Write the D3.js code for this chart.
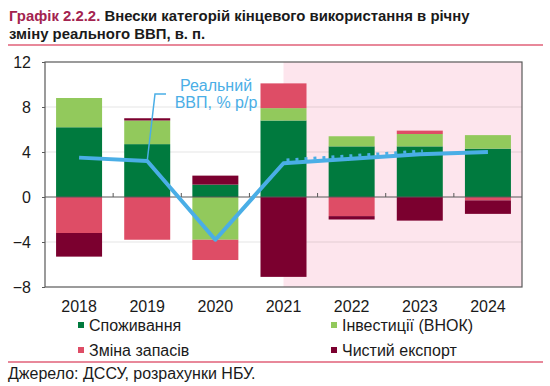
<!DOCTYPE html>
<html>
<head>
<meta charset="UTF-8" />
<title>Графік 2.2.2</title>
<script src="https://cdn.jsdelivr.net/npm/d3@7"></script>
<style>
    body { margin: 0; background: #fff; font-family: 'Liberation Sans', Arial, sans-serif; }
    svg text { font-family: 'Liberation Sans', Arial, sans-serif; }
</style>
</head>
<body>
<div id="chart"></div>
<script>
    var years = ["2018", "2019", "2020", "2021", "2022", "2023", "2024"];
    var consumption = [6.2, 4.7, 1.1, 6.8, 4.5, 4.5, 4.3];
    var investment = [2.6, 2.1, -3.8, 1.1, 0.9, 1.1, 1.2];
    var inventories = [-3.2, -3.8, -1.8, 2.2, -1.7, 0.3, -0.3];
    var netExport = [-2.1, 0.2, 0.8, -7.1, -0.3, -2.1, -1.2];
    var gdp = [3.5, 3.2, -3.8, 3.0, 3.4, 3.8, 4.0];
    var gdpPrev = [null, null, null, 3.2, 3.6, 4.0, null];
    var yTicks = [12, 8, 4, 0, -4, -8];

    var seriesNames = ["Споживання", "Інвестиції (ВНОК)", "Зміна запасів", "Чистий експорт"];
    var seriesColors = ["#007a3e", "#92c95c", "#de4d66", "#7b002f"];
    var keys = ["cons", "inv", "stock", "nx"];

    var rows = years.map(function (y, i) {
        return { year: y, cons: consumption[i], inv: investment[i], stock: inventories[i], nx: netExport[i] };
    });

    var W = 550, H = 386;
    var m = { left: 45, right: 28, top: 62, bottom: 99 };
    var pw = W - m.left - m.right, ph = H - m.top - m.bottom;

    var svg = d3.select("#chart").append("svg")
        .attr("width", W).attr("height", H);

    // title
    var title = svg.append("text").attr("x", 9).attr("y", 21)
        .attr("font-size", "14.9px").attr("font-weight", "bold");
    title.append("tspan").attr("fill", "#a3234f").text("Графік 2.2.2. ");
    title.append("tspan").attr("fill", "#1a1a1a").text("Внески категорій кінцевого використання в річну");
    svg.append("text").attr("x", 9).attr("y", 39)
        .attr("font-size", "14.9px").attr("font-weight", "bold").attr("fill", "#1a1a1a")
        .text("зміну реального ВВП, в. п.");
    svg.append("line").attr("x1", 8).attr("x2", 543).attr("y1", 45).attr("y2", 45)
        .attr("stroke", "#e06079").attr("stroke-width", 1.3);

    var g = svg.append("g").attr("transform", "translate(" + m.left + "," + m.top + ")");

    var x = d3.scaleBand().domain(years).range([0, pw]).paddingInner(0.325).paddingOuter(0.1625);
    var y = d3.scaleLinear().domain([-8, 12]).range([ph, 0]);
    var cx = function (d) { return x(d) + x.bandwidth() / 2; };

    // forecast shading from middle of 2021
    g.append("rect")
        .attr("x", cx("2021")).attr("y", 0)
        .attr("width", pw - cx("2021")).attr("height", ph)
        .attr("fill", "#fde5ed");

    // grid
    g.selectAll(".grid").data(yTicks.filter(function (t) { return t !== 0 && t !== 12 && t !== -8; }))
        .enter().append("line")
        .attr("x1", 0).attr("x2", pw)
        .attr("y1", function (d) { return y(d); }).attr("y2", function (d) { return y(d); })
        .attr("stroke", "rgba(0,0,0,0.1)").attr("stroke-width", 1);

    // stacked bars
    var stack = d3.stack().keys(keys).offset(d3.stackOffsetDiverging);
    var layers = stack(rows);

    g.selectAll(".layer").data(layers).enter().append("g")
        .attr("fill", function (d, i) { return seriesColors[i]; })
        .selectAll("rect").data(function (d) { return d; })
        .enter().append("rect")
        .attr("x", function (d) { return x(d.data.year); })
        .attr("width", x.bandwidth())
        .attr("y", function (d) { return y(Math.max(d[0], d[1])); })
        .attr("height", function (d) { return Math.abs(y(d[0]) - y(d[1])); });

    // zero line with category ticks
    g.append("line").attr("x1", 0).attr("x2", pw).attr("y1", y(0)).attr("y2", y(0))
        .attr("stroke", "#595959").attr("stroke-width", 1.2);
    g.selectAll(".ctick").data(years.slice(1)).enter().append("line")
        .attr("x1", function (d) { return x(d) - x.step() * x.paddingInner() / 2; })
        .attr("x2", function (d) { return x(d) - x.step() * x.paddingInner() / 2; })
        .attr("y1", y(0)).attr("y2", y(0) - 4)
        .attr("stroke", "#595959").attr("stroke-width", 1);

    // gdp lines
    var line = d3.line()
        .defined(function (d) { return d.v !== null; })
        .x(function (d) { return cx(d.year); })
        .y(function (d) { return y(d.v); });

    g.append("path")
        .datum(years.map(function (yr, i) { return { year: yr, v: gdpPrev[i] }; }))
        .attr("d", line)
        .attr("fill", "none").attr("stroke", "#4aaee6").attr("stroke-width", 3)
        .attr("stroke-dasharray", "3,6").attr("transform", "translate(3,-1)");

    g.append("path")
        .datum(years.map(function (yr, i) { return { year: yr, v: gdp[i] }; }))
        .attr("d", line)
        .attr("fill", "none").attr("stroke", "#4aaee6").attr("stroke-width", 4)
        .attr("stroke-linejoin", "round");

    // callout
    var px = cx("2019"), py = y(gdp[1]);
    g.append("path")
        .attr("d", "M" + (166 - m.left) + "," + (94 - m.top) + "H" + (155 - m.left) + "L" + px + "," + py)
        .attr("fill", "none").attr("stroke", "#4aaee6").attr("stroke-width", 1.5);
    svg.append("text").attr("x", 216).attr("y", 91).attr("text-anchor", "middle")
        .attr("font-size", "16px").attr("fill", "#4aaee6").text("Реальний");
    svg.append("text").attr("x", 216).attr("y", 108).attr("text-anchor", "middle")
        .attr("font-size", "16px").attr("fill", "#4aaee6").text("ВВП, % р/р");

    // frame
    g.append("rect").attr("width", pw).attr("height", ph)
        .attr("fill", "none").attr("stroke", "#595959").attr("stroke-width", 1.2);

    // y axis
    var yAxis = g.append("g").call(d3.axisLeft(y).tickValues(yTicks).tickSize(3).tickPadding(11).tickFormat(d3.format("d")));
    yAxis.select(".domain").remove();
    yAxis.selectAll("line").attr("stroke", "#595959");
    yAxis.selectAll("text").attr("font-size", "16px").attr("fill", "#1a1a1a").attr("dy", "0.35em");

    // x labels
    g.selectAll(".xl").data(years).enter().append("text")
        .attr("x", function (d) { return cx(d); }).attr("y", ph + 25)
        .attr("text-anchor", "middle").attr("font-size", "16px").attr("fill", "#1a1a1a")
        .text(function (d) { return d; });

    // legend
    var legPos = [[78, 325], [331, 325], [78, 350], [331, 350]];
    seriesNames.forEach(function (name, i) {
        var lg = svg.append("g").attr("transform", "translate(" + legPos[i][0] + "," + legPos[i][1] + ")");
        lg.append("rect").attr("x", 0).attr("y", -3).attr("width", 6).attr("height", 6).attr("fill", seriesColors[i]);
        lg.append("text").attr("x", 11).attr("y", 5.5).attr("font-size", "16px").attr("fill", "#1a1a1a").text(name);
    });

    svg.append("line").attr("x1", 8).attr("x2", 543).attr("y1", 362).attr("y2", 362)
        .attr("stroke", "#e06079").attr("stroke-width", 1.3);
    svg.append("text").attr("x", 8).attr("y", 379).attr("font-size", "16px").attr("fill", "#1a1a1a")
        .text("Джерело: ДССУ, розрахунки НБУ.");
</script>
</body>
</html>
